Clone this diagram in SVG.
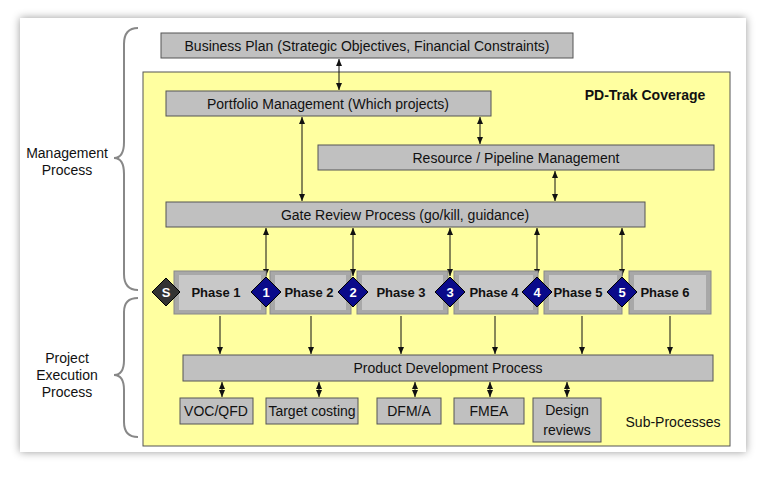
<svg xmlns="http://www.w3.org/2000/svg" width="760" height="482" viewBox="0 0 760 482">
<defs>
<style>
text{font-family:"Liberation Sans",Arial,sans-serif;font-size:14px;fill:#111;text-anchor:middle}
.box{fill:#c0c0c0;stroke:#555;stroke-width:1}
.ph{fill:#a8a8a8;stroke:#888;stroke-width:1}
.ln{stroke:#111;stroke-width:1;fill:none}
.br{stroke:#888;stroke-width:2;fill:none}
.dia{fill:#0a0a8a;stroke:#000;stroke-width:1}
.dt{fill:#fff;font-weight:bold;font-size:13px}
.pt{font-weight:bold;font-size:13px}
</style>
<marker id="ah" markerWidth="8" markerHeight="8" refX="7" refY="4" orient="auto-start-reverse" markerUnits="userSpaceOnUse"><path d="M0,1 L7,4 L0,7 Z" fill="#111"/></marker>
<filter id="sh" x="-5%" y="-5%" width="110%" height="110%"><feDropShadow dx="0" dy="0" stdDeviation="4" flood-color="#000" flood-opacity="0.4"/></filter>
</defs>
<rect width="760" height="482" fill="#fff"/>
<rect x="20" y="18" width="726" height="434" fill="#fff" filter="url(#sh)"/>
<rect x="143" y="72" width="587" height="374" fill="#ffffa0" stroke="#555"/>
<text x="645" y="100" style="font-weight:bold">PD-Trak Coverage</text>
<text x="673" y="427">Sub-Processes</text>
<path class="br" d="M138,28 Q124,28 124,44 L124,142 Q124,158 114,158 Q124,158 124,174 L124,274 Q124,290 138,290"/>
<path class="br" d="M138,298 Q124,298 124,312 L124,360 Q124,375 114,375 Q124,375 124,390 L124,422 Q124,437 138,437"/>
<text x="67" y="158">Management</text><text x="67" y="175">Process</text>
<text x="67" y="363">Project</text><text x="67" y="380">Execution</text><text x="67" y="397">Process</text>
<g id="connectors">
<line class="ln" x1="339" y1="59" x2="339" y2="90" marker-start="url(#ah)" marker-end="url(#ah)"/>
<line class="ln" x1="480" y1="117" x2="480" y2="144" marker-start="url(#ah)" marker-end="url(#ah)"/>
<line class="ln" x1="302" y1="117" x2="302" y2="201" marker-start="url(#ah)" marker-end="url(#ah)"/>
<line class="ln" x1="555" y1="171" x2="555" y2="201" marker-start="url(#ah)" marker-end="url(#ah)"/>
<line class="ln" x1="266" y1="228" x2="266" y2="276" marker-start="url(#ah)" marker-end="url(#ah)"/>
<line class="ln" x1="353" y1="228" x2="353" y2="276" marker-start="url(#ah)" marker-end="url(#ah)"/>
<line class="ln" x1="450" y1="228" x2="450" y2="276" marker-start="url(#ah)" marker-end="url(#ah)"/>
<line class="ln" x1="537" y1="228" x2="537" y2="276" marker-start="url(#ah)" marker-end="url(#ah)"/>
<line class="ln" x1="622" y1="228" x2="622" y2="276" marker-start="url(#ah)" marker-end="url(#ah)"/>
<line class="ln" x1="220" y1="316" x2="220" y2="354" marker-end="url(#ah)"/>
<line class="ln" x1="311" y1="316" x2="311" y2="354" marker-end="url(#ah)"/>
<line class="ln" x1="401" y1="316" x2="401" y2="354" marker-end="url(#ah)"/>
<line class="ln" x1="495" y1="316" x2="495" y2="354" marker-end="url(#ah)"/>
<line class="ln" x1="582" y1="316" x2="582" y2="354" marker-end="url(#ah)"/>
<line class="ln" x1="670" y1="316" x2="670" y2="354" marker-end="url(#ah)"/>
<line class="ln" x1="222" y1="382" x2="222" y2="397" marker-start="url(#ah)" marker-end="url(#ah)"/>
<line class="ln" x1="319" y1="382" x2="319" y2="397" marker-start="url(#ah)" marker-end="url(#ah)"/>
<line class="ln" x1="415" y1="382" x2="415" y2="397" marker-start="url(#ah)" marker-end="url(#ah)"/>
<line class="ln" x1="490" y1="382" x2="490" y2="397" marker-start="url(#ah)" marker-end="url(#ah)"/>
<line class="ln" x1="567" y1="382" x2="567" y2="397" marker-start="url(#ah)" marker-end="url(#ah)"/>
</g>
<g id="bp"><rect class="box" x="161" y="33" width="412" height="25"/><text x="367" y="51">Business Plan (Strategic Objectives, Financial Constraints)</text></g>
<g id="pm"><rect class="box" x="166" y="91" width="325" height="25"/><text x="328" y="109">Portfolio Management  (Which projects)</text></g>
<g id="rp"><rect class="box" x="318" y="145" width="396" height="25"/><text x="516" y="163">Resource / Pipeline Management</text></g>
<g id="gr"><rect class="box" x="166" y="202" width="479" height="25"/><text x="405" y="220">Gate Review Process (go/kill,  guidance)</text></g>
<g id="p1"><rect class="ph" x="174" y="271" width="92" height="43"/><rect x="179" y="275" width="82" height="35" fill="#c8c8c8"/><text class="pt" x="216" y="297">Phase 1</text></g>
<g id="p2"><rect class="ph" x="270" y="271" width="81" height="43"/><rect x="275" y="275" width="71" height="35" fill="#c8c8c8"/><text class="pt" x="309" y="297">Phase 2</text></g>
<g id="p3"><rect class="ph" x="357" y="271" width="91" height="43"/><rect x="362" y="275" width="81" height="35" fill="#c8c8c8"/><text class="pt" x="401" y="297">Phase 3</text></g>
<g id="p4"><rect class="ph" x="454" y="271" width="84" height="43"/><rect x="459" y="275" width="74" height="35" fill="#c8c8c8"/><text class="pt" x="494" y="297">Phase 4</text></g>
<g id="p5"><rect class="ph" x="544" y="271" width="78" height="43"/><rect x="549" y="275" width="68" height="35" fill="#c8c8c8"/><text class="pt" x="578" y="297">Phase 5</text></g>
<g id="p6"><rect class="ph" x="629" y="271" width="82" height="43"/><rect x="634" y="275" width="72" height="35" fill="#c8c8c8"/><text class="pt" x="665" y="297">Phase 6</text></g>
<g id="ds"><path d="M166,278 L180,292 L166,306 L152,292 Z" fill="#333" stroke="#000"/><text class="dt" x="166" y="297">S</text></g>
<g id="d1"><path class="dia" d="M266,277 L281,292 L266,307 L251,292 Z"/><text class="dt" x="266" y="297">1</text></g>
<g id="d2"><path class="dia" d="M353,277 L368,292 L353,307 L338,292 Z"/><text class="dt" x="353" y="297">2</text></g>
<g id="d3"><path class="dia" d="M450,277 L465,292 L450,307 L435,292 Z"/><text class="dt" x="450" y="297">3</text></g>
<g id="d4"><path class="dia" d="M537,277 L552,292 L537,307 L522,292 Z"/><text class="dt" x="537" y="297">4</text></g>
<g id="d5"><path class="dia" d="M622,277 L637,292 L622,307 L607,292 Z"/><text class="dt" x="622" y="297">5</text></g>
<g id="pdp"><rect class="box" x="183" y="355" width="530" height="26"/><text x="448" y="373">Product Development Process</text></g>
<g id="voc"><rect class="box" x="180" y="398" width="73" height="26"/><text x="216" y="416">VOC/QFD</text></g>
<g id="tc"><rect class="box" x="266" y="398" width="92" height="26"/><text x="312" y="416">Target costing</text></g>
<g id="dfm"><rect class="box" x="377" y="398" width="64" height="26"/><text x="409" y="416">DFM/A</text></g>
<g id="fmea"><rect class="box" x="454" y="398" width="70" height="26"/><text x="489" y="416">FMEA</text></g>
<g id="dr"><rect class="box" x="533" y="398" width="68" height="44"/><text x="567" y="415">Design</text><text x="567" y="435">reviews</text></g>
</svg>
